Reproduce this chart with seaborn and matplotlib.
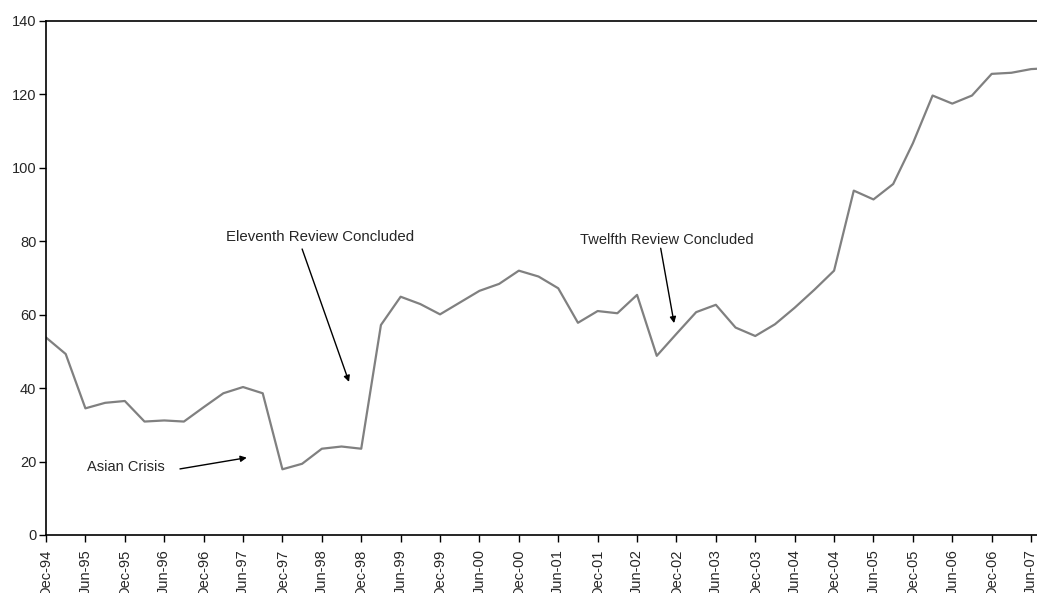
import matplotlib
matplotlib.use("Agg")
import matplotlib.pyplot as plt
import seaborn as sns
import pandas as pd

quarters = ["Dec-94", "Mar-95", "Jun-95", "Sep-95", "Dec-95", "Mar-96", "Jun-96", "Sep-96",
            "Dec-96", "Mar-97", "Jun-97", "Sep-97", "Dec-97", "Mar-98", "Jun-98", "Sep-98",
            "Dec-98", "Mar-99", "Jun-99", "Sep-99", "Dec-99", "Mar-00", "Jun-00", "Sep-00",
            "Dec-00", "Mar-01", "Jun-01", "Sep-01", "Dec-01", "Mar-02", "Jun-02", "Sep-02",
            "Dec-02", "Mar-03", "Jun-03", "Sep-03", "Dec-03", "Mar-04", "Jun-04", "Sep-04",
            "Dec-04", "Mar-05", "Jun-05", "Sep-05", "Dec-05", "Mar-06", "Jun-06", "Sep-06",
            "Dec-06", "Mar-07", "Jun-07", "Sep-07"]
values = [53.8, 49.3, 34.5, 36.0, 36.5, 30.9, 31.2, 30.9,
          34.8, 38.6, 40.3, 38.6, 17.9, 19.4, 23.5, 24.1,
          23.5, 57.2, 64.9, 62.9, 60.1, 63.3, 66.5, 68.4,
          72.0, 70.4, 67.2, 57.8, 61.0, 60.4, 65.4, 48.8,
          54.8, 60.7, 62.7, 56.5, 54.2, 57.4, 61.9, 66.8,
          72.0, 93.8, 91.4, 95.6, 106.7, 119.7, 117.5, 119.7,
          125.6, 125.9, 126.9, 127.2]
yticks = [0, 20, 40, 60, 80, 100, 120, 140]

sns.set_style("white")
plt.rcParams['font.family'] = ['Liberation Sans', 'DejaVu Sans']

df = pd.DataFrame({"idx": range(len(values)), "value": values, "quarter": quarters})

fig = plt.figure(figsize=(10.37, 5.93), dpi=100)
ax = fig.add_axes([46 / 1037, 1 - 535 / 593, 1 - 46 / 1037, (535 - 21) / 593])

sns.lineplot(data=df, x="idx", y="value", ax=ax, color="#808080", linewidth=1.6)

ax.set_xlim(0, 50.3)
ax.set_ylim(0, 140)
ax.set_yticks(yticks)
ax.set_yticklabels([str(v) for v in yticks], fontsize=10.5)
tick_pos = list(range(0, 51, 2))
ax.set_xticks(tick_pos)
ax.set_xticklabels([quarters[i] for i in tick_pos], rotation=90, fontsize=10.5)
ax.set_xlabel("")
ax.set_ylabel("")
ax.tick_params(axis="y", direction="out", length=5, width=1, color="black", pad=2, left=True)
ax.tick_params(axis="x", direction="out", length=5, width=1, color="black", pad=5, bottom=True)
for s in ["left", "bottom", "top"]:
    ax.spines[s].set_visible(True)
    ax.spines[s].set_color("black")
    ax.spines[s].set_linewidth(1.2)
ax.spines["right"].set_visible(False)
ax.grid(False)

arrow = dict(arrowstyle="-|>", color="black", lw=1.0, mutation_scale=9, shrinkA=0, shrinkB=0)

ax.text(13.9, 81.2, "Eleventh Review Concluded", ha="center", va="center", fontsize=10.8)
ax.annotate("", xy=(15.38, 41.7), xytext=(13.0, 77.9), arrowprops=arrow)

ax.text(31.5, 80.4, "Twelfth Review Concluded", ha="center", va="center", fontsize=10.5)
ax.annotate("", xy=(31.88, 57.7), xytext=(31.2, 78.1), arrowprops=arrow)

ax.text(4.04, 18.5, "Asian Crisis", ha="center", va="center", fontsize=10.5)
ax.annotate("", xy=(10.19, 21.06), xytext=(6.8, 18.0), arrowprops=arrow)

fig.savefig("out.png", dpi=100)
